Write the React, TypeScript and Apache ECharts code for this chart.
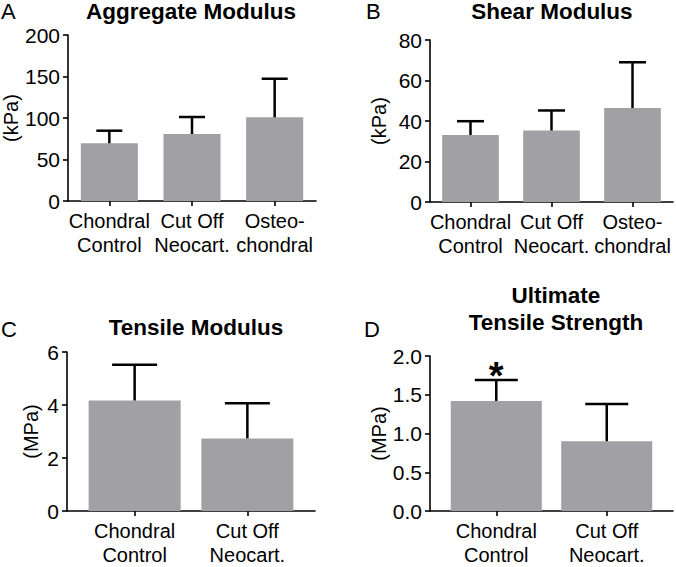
import React, { useEffect, useRef } from "react";
import * as echarts from "echarts";

// ---- Data ----
const catsABC = ["Chondral\nControl", "Cut Off\nNeocart.", "Osteo-\nchondral"];
const catsCD = ["Chondral\nControl", "Cut Off\nNeocart."];
const cdPos = [1, 2];

const aggMean = [69.5, 80.7, 100.8];
const aggSD = [15.2, 20.5, 46.5];

const shearMean = [33.1, 35.3, 46.4];
const shearSD = [6.8, 9.9, 22.6];

const tensMean = [4.17, 2.74];
const tensSD = [1.35, 1.33];

const utsMean = [1.42, 0.9];
const utsSD = [0.27, 0.48];
const utsSig = ["*", ""];

const aggTicks = { min: 0, max: 200, interval: 50 };
const shearTicks = { min: 0, max: 80, interval: 20 };
const tensTicks = { min: 0, max: 6, interval: 2 };
const utsTicks = { min: 0, max: 2, interval: 0.5 };

const FONT = '"Liberation Sans", Arial, Helvetica, sans-serif';
const BAR = "#a1a1a5";
const INK = "#000000";

function errRender(capPx: number, marks?: string[]) {
  return (params: any, api: any) => {
    const x = api.value(0);
    const m = api.value(1);
    const u = api.value(2);
    const p0 = api.coord([x, m]);
    const p1 = api.coord([x, u]);
    const children: any[] = [
      {
        type: "line",
        shape: { x1: p0[0], y1: p0[1], x2: p1[0], y2: p1[1] },
        style: { stroke: INK, lineWidth: 2.5 },
      },
      {
        type: "line",
        shape: { x1: p1[0] - capPx / 2, y1: p1[1], x2: p1[0] + capPx / 2, y2: p1[1] },
        style: { stroke: INK, lineWidth: 2.5 },
      },
    ];
    const mk = marks ? marks[params.dataIndex] : "";
    if (mk) {
      children.push({
        type: "text",
        style: {
          text: mk,
          x: p1[0],
          y: p1[1] - 4,
          align: "center",
          verticalAlign: "middle",
          font: `bold 38px ${FONT}`,
          fill: INK,
        },
      });
    }
    return { type: "group", children };
  };
}

function yAxisCfg(gridIndex: number, name: string, ticks: any, nameGap: number, digits = 0) {
  return {
    type: "value",
    gridIndex,
    min: ticks.min,
    max: ticks.max,
    interval: ticks.interval,
    name,
    nameLocation: "middle",
    nameGap,
    nameTextStyle: { fontSize: 20, fontFamily: FONT, color: INK },
    axisLine: { show: true, lineStyle: { color: INK, width: 1.6 } },
    axisTick: { show: true, length: 5, lineStyle: { color: INK, width: 1.6 } },
    axisLabel: {
      fontSize: 21,
      fontFamily: FONT,
      color: INK,
      margin: 8,
      formatter: (v: number) => v.toFixed(digits),
    },
    splitLine: { show: false },
  };
}

function catAxisCfg(gridIndex: number, cats: string[]) {
  return {
    type: "category",
    gridIndex,
    data: cats,
    axisLine: { show: true, lineStyle: { color: INK, width: 1.6 } },
    axisTick: { show: true, alignWithLabel: true, length: 5, lineStyle: { color: INK, width: 1.6 } },
    axisLabel: { fontSize: 20, fontFamily: FONT, color: INK, margin: 8, lineHeight: 24, interval: 0 },
    splitLine: { show: false },
  };
}

function posAxisCfg(gridIndex: number, cats: string[]) {
  return {
    type: "value",
    gridIndex,
    min: 0.4,
    max: 2.6,
    axisLine: { show: true, lineStyle: { color: INK, width: 1.6 } },
    axisTick: { show: true, length: 5, customValues: cdPos, lineStyle: { color: INK, width: 1.6 } },
    axisLabel: {
      fontSize: 20,
      fontFamily: FONT,
      color: INK,
      margin: 8,
      lineHeight: 24,
      customValues: cdPos,
      formatter: (v: number) => cats[cdPos.indexOf(Math.round(v))] ?? "",
    },
    splitLine: { show: false },
  };
}

export default function App() {
  const ref = useRef<HTMLDivElement>(null);

  useEffect(() => {
    if (!ref.current) return;
    const chart = echarts.init(ref.current, null, { renderer: "svg" });

    const titleStyle = { fontSize: 22.5, fontWeight: "bold", fontFamily: FONT, color: INK, lineHeight: 27 };
    const letterFont = `22px ${FONT}`;

    const option: any = {
      animation: false,
      backgroundColor: "#ffffff",
      title: [
        { text: "Aggregate Modulus", left: 191, top: -2, textAlign: "center", padding: 0, textStyle: titleStyle },
        { text: "Shear Modulus", left: 552, top: -2, textAlign: "center", padding: 0, textStyle: titleStyle },
        { text: "Tensile Modulus", left: 196, top: 314, textAlign: "center", padding: 0, textStyle: titleStyle },
        { text: "Ultimate\nTensile Strength", left: 556, top: 282, textAlign: "center", padding: 0, textStyle: titleStyle },
      ],
      graphic: [
        { type: "text", style: { text: "A", x: 1, y: 11, verticalAlign: "middle", font: letterFont, fill: INK } },
        { type: "text", style: { text: "B", x: 366, y: 11, verticalAlign: "middle", font: letterFont, fill: INK } },
        { type: "text", style: { text: "C", x: 1, y: 329, verticalAlign: "middle", font: letterFont, fill: INK } },
        { type: "text", style: { text: "D", x: 364, y: 329, verticalAlign: "middle", font: letterFont, fill: INK } },
      ],
      grid: [
        { left: 68, top: 35, width: 248, height: 166 },
        { left: 430, top: 40, width: 243, height: 162 },
        { left: 67, top: 352, width: 248, height: 165.5 },
        { left: 430, top: 356, width: 243, height: 162 },
      ],
      xAxis: [
        catAxisCfg(0, catsABC),
        catAxisCfg(1, catsABC),
        posAxisCfg(2, catsCD),
        posAxisCfg(3, catsCD),
      ],
      yAxis: [
        yAxisCfg(0, "(kPa)", aggTicks, 45),
        yAxisCfg(1, "(kPa)", shearTicks, 41),
        yAxisCfg(2, "(MPa)", tensTicks, 26),
        yAxisCfg(3, "(MPa)", utsTicks, 41, 1),
      ],
      series: [
        {
          type: "bar", xAxisIndex: 0, yAxisIndex: 0, data: aggMean,
          barCategoryGap: "31%", itemStyle: { color: BAR },
        },
        {
          type: "custom", xAxisIndex: 0, yAxisIndex: 0, z: 5,
          renderItem: errRender(26),
          encode: { x: 0, y: [1, 2] },
          data: aggMean.map((m, i) => [i, m, m + aggSD[i]]),
        },
        {
          type: "bar", xAxisIndex: 1, yAxisIndex: 1, data: shearMean,
          barCategoryGap: "30%", itemStyle: { color: BAR },
        },
        {
          type: "custom", xAxisIndex: 1, yAxisIndex: 1, z: 5,
          renderItem: errRender(27),
          encode: { x: 0, y: [1, 2] },
          data: shearMean.map((m, i) => [i, m, m + shearSD[i]]),
        },
        {
          type: "bar", xAxisIndex: 2, yAxisIndex: 2, barWidth: 92,
          data: tensMean.map((m, i) => [cdPos[i], m]),
          itemStyle: { color: BAR },
        },
        {
          type: "custom", xAxisIndex: 2, yAxisIndex: 2, z: 5,
          renderItem: errRender(45),
          encode: { x: 0, y: [1, 2] },
          data: tensMean.map((m, i) => [cdPos[i], m, m + tensSD[i]]),
        },
        {
          type: "bar", xAxisIndex: 3, yAxisIndex: 3, barWidth: 91,
          data: utsMean.map((m, i) => [cdPos[i], m]),
          itemStyle: { color: BAR },
        },
        {
          type: "custom", xAxisIndex: 3, yAxisIndex: 3, z: 5,
          renderItem: errRender(43, utsSig),
          encode: { x: 0, y: [1, 2] },
          data: utsMean.map((m, i) => [cdPos[i], m, m + utsSD[i]]),
        },
      ],
    };

    chart.setOption(option);
    return () => chart.dispose();
  }, []);

  return (
    <div
      ref={ref}
      style={{ position: "absolute", left: 0, top: 0, width: 676, height: 567, background: "#fff" }}
    />
  );
}
